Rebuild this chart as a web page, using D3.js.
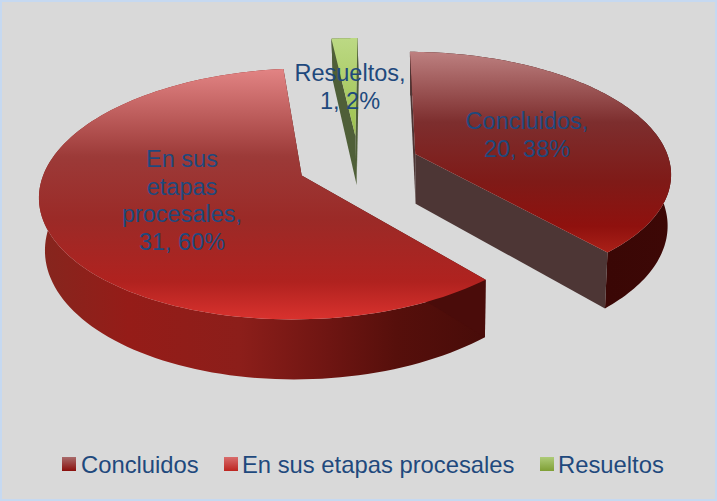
<!DOCTYPE html>
<html><head><meta charset="utf-8">
<style>html,body{margin:0;padding:0;background:#d9d9d9}svg{display:block}text{font-family:"Liberation Sans",Arial,sans-serif}</style>
<script src="https://cdn.jsdelivr.net/npm/d3@7"></script></head><body>
<script>
const categories = ["Concluidos", "En sus etapas procesales", "Resueltos"];
const values = [20, 31, 1];
const labelLines = [["Concluidos,", "20, 38%"], ["En sus", "etapas", "procesales,", "31, 60%"], ["Resueltos,", "1, 2%"]];
const labelPos = [[527, 129], [182, 167], [350, 81]];
const legendSwatchX = [62, 224, 540];
const legendTextX = [81, 242, 558];
const topStops = [
  [[0,"#bd8080"],[0.35,"#7d2e2e"],[0.65,"#7f1a17"],[0.87,"#8f110e"],[1,"#aa2018"]],
  [[0,"#e28484"],[0.35,"#9c3a38"],[0.6,"#9b2a27"],[0.85,"#b0221f"],[1,"#d9322e"]],
  [[0,"#bcd984"],[1,"#9cc04c"]]
];
const wallStops = [
  [[0,"#300402"],[1,"#3d0806"]],
  [[0,"#85261e"],[0.2,"#951c18"],[0.45,"#8c1e1a"],[0.65,"#6e1512"],[0.8,"#560f0b"],[1,"#480c09"]],
  [[0,"#4d5c35"],[1,"#4d5c35"]]
];
const cutColors = ["#4d3635", "#4a0c0a", "#4f5f38"];
const legendStops = [["#a86a6a","#8a0f0c"],["#d86c6c","#bd2520"],["#aecb78","#7f9f35"]];

const W = 717, H = 501;
const cx = 358.5, cy = 163.8, R = 255, Ry = 119.5, k = 0.144, explode = 0.24;
const depth = 50.5, vanishX = 440, bottomScale = 0.985;
const fontSize = 23.5, legendFont = 23.8, lineH = 27.5;
const startAngle = 0.008;

const svg = d3.select("body").append("svg").attr("width", W).attr("height", H);
const defs = svg.append("defs");
function grad(id, stops, x1, y1, x2, y2) {
  const g = defs.append("linearGradient").attr("id", id).attr("gradientUnits", "userSpaceOnUse")
    .attr("x1", x1).attr("y1", y1).attr("x2", x2).attr("y2", y2);
  stops.forEach(s => g.append("stop").attr("offset", s[0]).attr("stop-color", s[1]));
}
svg.append("rect").attr("x", 1).attr("y", 1).attr("width", W - 2).attr("height", H - 2)
  .attr("fill", "#d9d9d9").attr("stroke", "#c6d9f1").attr("stroke-width", 2);

function top3(u, v) {
  const w = 1 / (1 - k * v);
  return [cx + R * u * w, cy + Ry * v * w, w];
}
function bottom3(u, v) {
  const p = top3(u, v);
  return [vanishX + (p[0] - vanishX) * bottomScale, p[1] + depth * p[2]];
}
const line = d3.line();
const pie = d3.pie().sort(null).value(d => d).startAngle(startAngle).endAngle(2 * Math.PI + startAngle);
const arcs = pie(values);

const order = [1, 2, 0];
order.forEach(i => {
  const a = arcs[i], mid = (a.startAngle + a.endAngle) / 2;
  const ou = explode * Math.sin(mid), ov = -explode * Math.cos(mid);
  const angles = d3.range(0, 121).map(j => a.startAngle + (a.endAngle - a.startAngle) * j / 120);
  const rim = angles.map(t => [ou + Math.sin(t), ov - Math.cos(t)]);
  const T = uv => top3(uv[0], uv[1]).slice(0, 2);
  const B = uv => bottom3(uv[0], uv[1]);
  const apex = [ou, ov];
  const topPts = [apex, ...rim].map(T);
  const xs = rim.map(T).map(p => p[0]).concat(T(apex)[0]);
  const ys = topPts.map(p => p[1]);
  grad("top" + i, topStops[i], 0, d3.min(ys), 0, d3.max(ys));
  grad("wall" + i, wallStops[i], d3.min(xs), 0, d3.max(xs), 0);
  const g = svg.append("g");
  // outer wall
  g.append("path").attr("fill", `url(#wall${i})`)
    .attr("d", line([...rim.map(T), ...rim.slice().reverse().map(B)]) + "Z");
  // cut faces
  [rim[0], rim[rim.length - 1]].forEach(e => {
    g.append("path").attr("fill", cutColors[i])
      .attr("d", line([T(apex), T(e), B(e), B(apex)]) + "Z");
  });
  // top face
  g.append("path").attr("fill", `url(#top${i})`).attr("d", line(topPts) + "Z");
});

// data labels
labelLines.forEach((lines, i) => {
  lines.forEach((s, j) => {
    svg.append("text").attr("x", labelPos[i][0]).attr("y", labelPos[i][1] + j * lineH)
      .attr("text-anchor", "middle").attr("font-size", fontSize).attr("fill", "#1f497d").text(s);
  });
});

// legend
categories.forEach((c, i) => {
  const id = "leg" + i;
  const g = defs.append("linearGradient").attr("id", id).attr("x1", 0).attr("y1", 0).attr("x2", 0).attr("y2", 1);
  g.append("stop").attr("offset", 0).attr("stop-color", legendStops[i][0]);
  g.append("stop").attr("offset", 1).attr("stop-color", legendStops[i][1]);
  svg.append("rect").attr("x", legendSwatchX[i]).attr("y", 457).attr("width", 14).attr("height", 14).attr("fill", `url(#${id})`);
  svg.append("text").attr("x", legendTextX[i]).attr("y", 473).attr("font-size", legendFont).attr("fill", "#1f497d").text(c);
});
</script></body></html>
